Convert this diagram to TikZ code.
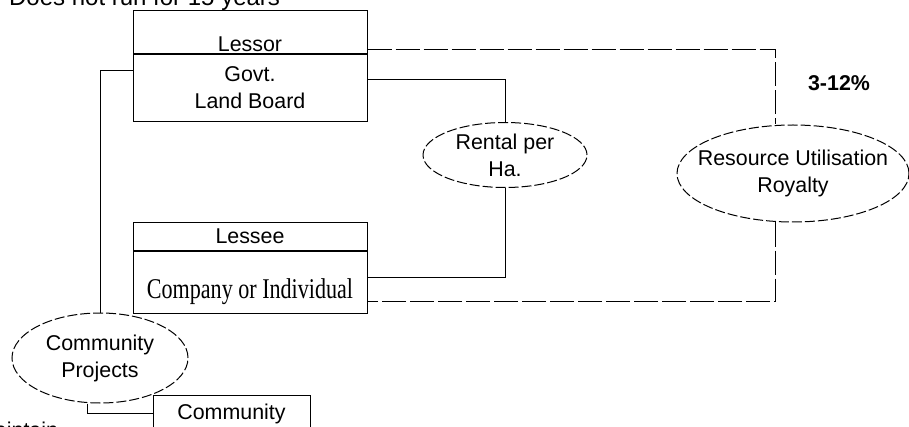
\documentclass[tikz,border=0pt]{standalone}
\usepackage{graphicx}
\usepackage{fontspec}
\setmainfont{Liberation Sans}
\newfontfamily\lesseefont{Liberation Serif}
\usetikzlibrary{shapes.geometric}

\begin{document}
\begin{tikzpicture}[x=.5pt, y=-.5pt, line width=.5pt,
    font=\fontsize{10.7}{13.5}\selectfont,
    box/.style={draw, rectangle, minimum width=117pt, inner sep=0pt, align=center},
    oval/.style={draw, ellipse, dash pattern=on 5pt off 1.5pt, inner xsep=-10pt, inner ysep=0pt, align=center},
    gaplink/.style={dash pattern=on 12pt off 2pt}]
            \useasboundingbox (0,0) rectangle (909,427);

            \node[draw=none, anchor=base west, font=\fontsize{12}{14}\selectfont] (note) at (2,6) {Does not run for 15 years};

            % lessor and lessee boxes
            \node[box, anchor=south, text height=20pt, text depth=.5pt, inner ysep=.5pt] (lessor) at (250,54) {Lessor};
            \node[box, anchor=north, minimum height=33.5pt] (lessorbody) at (lessor.south) {Govt.\\Land Board};

            \node[box, anchor=north, minimum height=14pt] (lessee) at (250,222) {Lessee};
            \node[box, anchor=north, minimum height=31pt, text height=17pt, text depth=1pt] (lesseebody) at (lessee.south)
                {\lesseefont\fontsize{13}{15}\selectfont\scalebox{.85}[1.1]{Company or Individual}};

            \node[box, anchor=north, minimum width=78.5pt, minimum height=18pt] (community) at (231.5,395) {Community};
            \node[draw=none, anchor=base west] (maintain) at (-30,437) {Maintain};

            % ovals
            \node[oval, minimum width=82pt, minimum height=32.5pt] (rental) at (505,155) {Rental per\\Ha.};
            \node[oval, minimum width=116pt, minimum height=48.5pt] (royalty) at (793,173.5) {Resource Utilisation\\Royalty};
            \node[oval, minimum width=88pt, minimum height=45pt] (projects) at (100,358) {Community\\Projects};
            \node[draw=none, font=\bfseries\fontsize{10.7}{13.5}\selectfont] (rate) at (839,83) {3-12\%};

            % connectors
            \draw[gaplink] ([yshift=2pt]lessor.south east) -| ([xshift=-9pt]royalty.north);
            \draw ([yshift=4.25pt]lessorbody.east) -| (rental.north);
            \draw (rental.south) |- ([yshift=2.5pt]lesseebody.east);
            \draw[gaplink] ([xshift=-9pt]royalty.south) |- ([yshift=-9.5pt]lesseebody.east);
            \draw ([yshift=8.75pt]lessorbody.west) -| (projects.north);
            \draw ([xshift=-6.5pt]projects.south) |- (community.west);

            \end{tikzpicture}
\end{document}
